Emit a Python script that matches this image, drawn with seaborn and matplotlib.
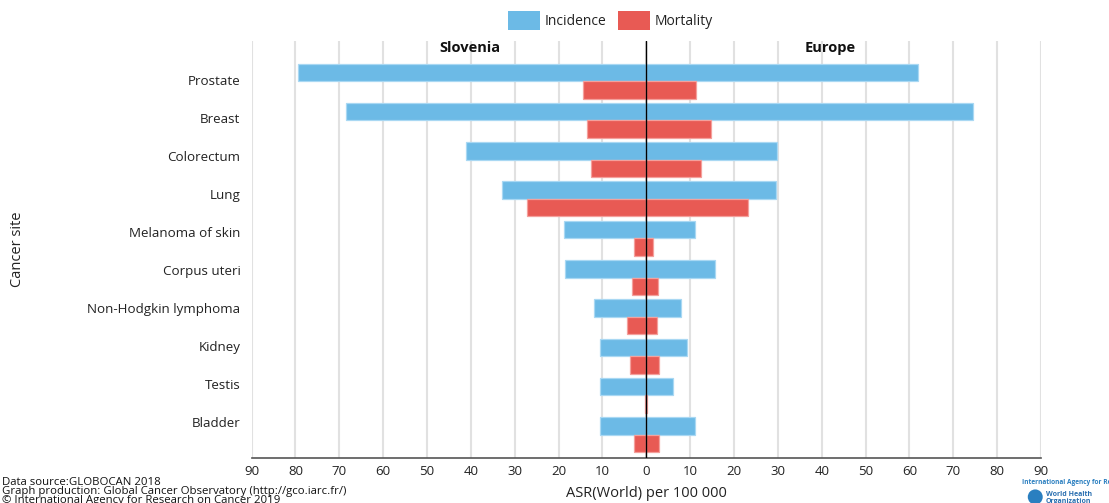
import numpy as np
import pandas as pd
import matplotlib
matplotlib.use("Agg")
import matplotlib.pyplot as plt
import seaborn as sns
from matplotlib.patches import Patch

# ---------------- data ----------------
sites = ["Prostate", "Breast", "Colorectum", "Lung", "Melanoma of skin",
         "Corpus uteri", "Non-Hodgkin lymphoma", "Kidney", "Testis", "Bladder"]
slovenia_incidence = [79.3, 68.4, 41.1, 32.9, 18.7, 18.6, 11.9, 10.6, 10.6, 10.5]
slovenia_mortality = [14.4, 13.4, 12.5, 27.2, 2.8, 3.3, 4.4, 3.6, 0.4, 2.8]
europe_incidence = [62.0, 74.4, 29.9, 29.6, 11.0, 15.6, 7.9, 9.4, 6.0, 11.1]
europe_mortality = [11.3, 14.8, 12.4, 23.3, 1.5, 2.7, 2.4, 2.9, 0.25, 2.8]
measures = ["Incidence", "Mortality"]
tick_values = list(range(-90, 91, 10))
tick_labels = [str(abs(v)) for v in tick_values]
region_titles = ["Slovenia", "Europe"]

colors = {"Incidence": "#6CBAE6", "Mortality": "#E85A54"}
edges = {"Incidence": "#A9D8F3", "Mortality": "#F4A09C"}

# ---------------- frames ----------------
left = pd.DataFrame({
    "site": sites * 2,
    "measure": ["Incidence"] * len(sites) + ["Mortality"] * len(sites),
    "value": [-v for v in slovenia_incidence] + [-v for v in slovenia_mortality],
})
right = pd.DataFrame({
    "site": sites * 2,
    "measure": ["Incidence"] * len(sites) + ["Mortality"] * len(sites),
    "value": europe_incidence + europe_mortality,
})

sns.set_style("white")
plt.rcParams["font.family"] = ["Open Sans", "DejaVu Sans"]

fig = plt.figure(figsize=(11.09, 5.03), dpi=100)
ax = fig.add_axes([0.2268, 0.0895, 0.7119, 0.829])

for df in (left, right):
    sns.barplot(data=df, x="value", y="site", hue="measure", order=sites,
                hue_order=measures, palette=colors, orient="h", saturation=1,
                width=0.89, dodge=True, legend=False, errorbar=None,
                linewidth=0.9, ax=ax, zorder=3)

# light edges for bars
inc_rgb = np.array(matplotlib.colors.to_rgb(colors["Incidence"]))
for patch in ax.patches:
    fc = np.array(patch.get_facecolor()[:3])
    if np.allclose(fc, inc_rgb, atol=0.02):
        patch.set_edgecolor(edges["Incidence"])
    else:
        patch.set_edgecolor(edges["Mortality"])

ax.set_xlim(-90, 90)
ax.set_ylim(9.59, -1.02)

ax.set_xticks(tick_values)
ax.set_xticklabels(tick_labels, fontsize=9.5, color="#222222")
ax.xaxis.grid(True, color="#e1e1e1", linewidth=1.5, zorder=0)
ax.yaxis.grid(False)
ax.set_axisbelow(True)

# category labels (slightly tighter spacing than the bars, like the original)
ytick_pos = [-0.025 + 0.967 * i for i in range(len(sites))]
ax.set_yticks(ytick_pos)
ax.set_yticklabels(sites, fontsize=9.6, color="#222222")
ax.tick_params(axis="y", length=0, pad=8)
ax.tick_params(axis="x", length=4, width=1.2, color="#cfcfcf", pad=1)

for s in ["top", "right", "left"]:
    ax.spines[s].set_visible(False)
ax.spines["bottom"].set_color("#555555")
ax.spines["bottom"].set_linewidth(1.2)

ax.axvline(0, color="black", linewidth=1.0, zorder=5)

ax.set_xlabel("ASR(World) per 100 000", fontsize=10.5, color="#222222")
ax.xaxis.set_label_coords(0.5, -0.066)
ax.set_ylabel("Cancer site", fontsize=10.5, color="#222222")
ax.yaxis.set_label_coords(-0.2875, 0.5)

ax.text(-40.2, -0.84, region_titles[0], ha="center", va="center",
        fontsize=10.5, fontweight="bold", color="#111111")
ax.text(41.9, -0.84, region_titles[1], ha="center", va="center",
        fontsize=10.5, fontweight="bold", color="#111111")

handles = [Patch(facecolor=colors[m], edgecolor="none", label=m) for m in measures]
fig.legend(handles=handles, loc="center", bbox_to_anchor=(0.5505, 0.959), ncol=2,
           frameon=False, fontsize=10, handlelength=2.3, handleheight=1.75,
           handletextpad=0.35, columnspacing=0.8, labelcolor="#222222")

# footer text
fig.text(0.002, 0.0417, "Data source:GLOBOCAN 2018", fontsize=8.2, color="#111111",
         ha="left", va="center")
fig.text(0.002, 0.0219, "Graph production: Global Cancer Observatory (http://gco.iarc.fr/)",
         fontsize=8.2, color="#111111", ha="left", va="center")
fig.text(0.002, 0.004, "\u00a9 International Agency for Research on Cancer 2019",
         fontsize=8.2, color="#111111", ha="left", va="center")

fig.text(0.9215, 0.040, "International Agency for Research on Cancer", fontsize=4.7,
         fontweight="bold", color="#2a7fc0", ha="left", va="center")
fig.text(0.943, 0.010, "World Health\nOrganization", fontsize=5, fontweight="bold",
         color="#2a6fb0", ha="left", va="center", linespacing=0.9)
fig.patches.append(matplotlib.patches.Ellipse((0.9335, 0.012), 0.0135, 0.03,
                   transform=fig.transFigure, facecolor="#2a7fc0",
                   edgecolor="none"))

fig.savefig("out.png", dpi=100)
